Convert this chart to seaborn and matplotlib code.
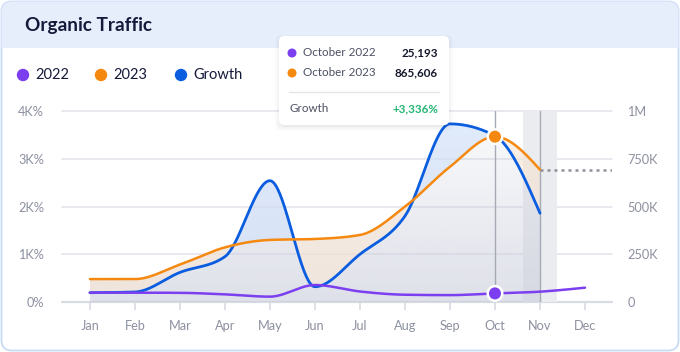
import numpy as np
import pandas as pd
import matplotlib
matplotlib.use('Agg')
import matplotlib.pyplot as plt
import matplotlib.transforms as mtransforms
from matplotlib.patches import FancyBboxPatch, Rectangle, Circle
import seaborn as sns

# ---- data ----
months = ['Jan', 'Feb', 'Mar', 'Apr', 'May', 'Jun', 'Jul', 'Aug', 'Sep', 'Oct', 'Nov', 'Dec']
traffic_2022 = [49000, 49000, 48000, 40000, 28000, 89000, 55000, 38000, 36000, 45000, 54000, 75000]
traffic_2023 = [120000, 120000, 196000, 286000, 325000, 330000, 351000, 499000, 708000, 865606, 693000]
growth_k = [0.195, 0.21, 0.62, 0.95, 2.54, 0.32, 1.0, 1.8, 3.73, 3.48, 1.86]  # in K%
left_ticks = ['0%', '1K%', '2K%', '3K%', '4K%']
right_ticks = ['0', '250K', '500K', '750K', '1M']
tip_rows = [('October 2022', '25,193'), ('October 2023', '865,606')]
tip_growth = '+3,336%'

PURPLE = '#7b3ff0'
ORANGE = '#f5890f'
BLUE = '#0b5de0'
TICK = '#8c90a0'
GRID = '#e3e5eb'

sns.set_style('white')
plt.rcParams['font.family'] = ['Lato', 'DejaVu Sans']


def monotone(x, y, n=40):
    # monotone cubic (same idea as d3 curveMonotoneX)
    x = np.asarray(x, float)
    y = np.asarray(y, float)
    h = np.diff(x)
    s = np.diff(y) / h
    t = np.zeros_like(y)
    for i in range(1, len(y) - 1):
        p = (s[i - 1] * h[i] + s[i] * h[i - 1]) / (h[i - 1] + h[i])
        t[i] = (np.sign(s[i - 1]) + np.sign(s[i])) * min(abs(s[i - 1]), abs(s[i]), 0.5 * abs(p))
    t[0] = (3 * s[0] - t[1]) / 2
    t[-1] = (3 * s[-1] - t[-2]) / 2
    xs, ys = [], []
    for i in range(len(h)):
        u = np.linspace(0, 1, n, endpoint=(i == len(h) - 1))
        h00 = 2 * u**3 - 3 * u**2 + 1
        h10 = u**3 - 2 * u**2 + u
        h01 = -2 * u**3 + 3 * u**2
        h11 = u**3 - u**2
        xs.append(x[i] + u * h[i])
        ys.append(h00 * y[i] + h10 * h[i] * t[i] + h01 * y[i + 1] + h11 * h[i] * t[i + 1])
    return np.concatenate(xs), np.concatenate(ys)


W, H = 680, 352
fig = plt.figure(figsize=(W / 100, H / 100), dpi=100)
px = mtransforms.Affine2D().scale(1 / W, -1 / H).translate(0, 1) + fig.transFigure

# card + header (drawn below the axes)
card = FancyBboxPatch((1.5, 1.5), W - 3, H - 3, boxstyle='round,pad=0,rounding_size=10',
                      transform=px, facecolor='white', edgecolor='#c8daf6', lw=1.3, zorder=-3)
fig.patches.append(card)
head = Rectangle((0, 0), W, 48, transform=px, facecolor='#e6eefc', edgecolor='none', zorder=-2)
head.set_clip_path(card)
fig.patches.append(head)
fig.text(25 / W, 1 - 25 / H, 'Organic Traffic', fontsize=13.7, fontweight='bold',
         color='#161a3a', va='center', ha='left')

# legend
for lx, col, lab in [(23, PURPLE, '2022'), (101, ORANGE, '2023'), (181, BLUE, 'Growth')]:
    fig.patches.append(Circle((lx, 75), 5.5, transform=px, color=col, zorder=2))
    fig.text((lx + 12) / W, 1 - 75 / H, lab, fontsize=10.5, color='#161a3a',
             va='center', ha='left')

# axes
x_pos = np.arange(12)
ax = fig.add_axes([62 / W, 1 - 302 / H, 550 / W, 191 / H])
ax.patch.set_visible(False)
ax2 = ax.twinx()
ax2.set_ylim(0, 1000000)

for sp in list(ax.spines.values()) + list(ax2.spines.values()):
    sp.set_visible(False)
for v in range(5):
    ax.axhline(v, color=GRID if v else '#d8dbe2', lw=1.2 if v else 1.6, zorder=0, clip_on=False)

# hover band and guides
ax.axvspan(9.62, 10.38, color='#ebecef', zorder=0.2, lw=0)
ax.axvline(9, color='#a6aab4', lw=1, zorder=1)
ax.axvline(10, color='#a6aab4', lw=1, zorder=1)

# smooth curves
gx, gy = monotone(x_pos[:11], growth_k)
ox, oy = monotone(x_pos[:11], traffic_2023)
px_, py_ = monotone(x_pos, traffic_2022)
oy_left = oy / 250000.0

# gradient area under the curves
top = np.maximum(gy, oy_left)
poly = ax.fill_between(gx, 0, top, color='none', lw=0)
grad = np.zeros((100, 1, 4))
grad[:, 0, :3] = np.array([0.79, 0.80, 0.86])
grad[:, 0, 3] = np.linspace(0.6, 0.06, 100)
im = ax.imshow(grad, extent=[0, 10, 4, 0], aspect='auto', zorder=0.3, origin='upper')
im.set_clip_path(poly.get_paths()[0], transform=ax.transData)
ax.fill_between(gx, oy_left, gy, where=gy >= oy_left, color='#cfe0fb', alpha=0.6, lw=0, zorder=0.4)
ax.fill_between(gx, gy, oy_left, where=oy_left >= gy, color='#fde8d2', alpha=0.55, lw=0, zorder=0.4)

sns.lineplot(x=gx, y=gy, ax=ax, color=BLUE, lw=2.0, sort=False, estimator=None, zorder=3)
sns.lineplot(x=ox, y=oy, ax=ax2, color=ORANGE, lw=1.8, sort=False, estimator=None, zorder=3)
sns.lineplot(x=px_, y=py_, ax=ax2, color=PURPLE, lw=1.8, sort=False, estimator=None, zorder=3)
ax2.hlines(traffic_2023[-1], 10, 11.6, colors='#8e919b', linestyles=(0, (1.2, 1.6)), lw=1.8)

pts = pd.DataFrame({'x': [9, 9], 'y': [traffic_2023[9], traffic_2022[9]], 's': ['2023', '2022']})
sns.scatterplot(data=pts, x='x', y='y', hue='s', palette={'2023': ORANGE, '2022': PURPLE},
                s=110, edgecolor='white', linewidth=1.8, ax=ax2, legend=False, zorder=5, clip_on=False)

ax.set_xlim(-0.62, 11.6)
ax.set_ylim(0, 4)
ax2.set_ylim(0, 1000000)

# ticks
ax.set_xticks(x_pos)
ax.set_xticklabels(months)
ax.set_yticks(range(5))
ax.set_yticklabels(left_ticks)
ax2.set_yticks([0, 250000, 500000, 750000, 1000000])
ax2.set_yticklabels(right_ticks)
ax.set_xlabel('')
ax.set_ylabel('')
ax2.set_xlabel('')
ax2.set_ylabel('')
ax.tick_params(axis='x', direction='out', length=6, width=1.2, color='#d8dbe2', pad=7,
               labelcolor=TICK, labelsize=9.2, bottom=True)
ax.tick_params(axis='y', length=0, pad=13, labelcolor=TICK, labelsize=9.2)
ax2.tick_params(axis='y', length=0, pad=11, labelcolor=TICK, labelsize=9.2)

# tooltip
for k, a in enumerate([0.05, 0.035, 0.02]):
    fig.patches.append(FancyBboxPatch((279 - k * 2, 36 - k + 1), 170 + k * 4, 89 + k * 3 + 1,
                                      boxstyle='round,pad=0,rounding_size=6', transform=px,
                                      facecolor='#3a3f55', alpha=a, edgecolor='none', zorder=6))
fig.patches.append(FancyBboxPatch((279, 36), 170, 89, boxstyle='round,pad=0,rounding_size=5',
                                  transform=px, facecolor='white', edgecolor='none', zorder=7))
for (lab, val), ty, col in zip(tip_rows, [53, 73], [PURPLE, ORANGE]):
    fig.patches.append(Circle((292, ty), 3.8, transform=px, color=col, zorder=8))
    fig.text(303 / W, 1 - ty / H, lab, fontsize=8.4, color='#4b5063', va='center', ha='left', zorder=8)
    fig.text(438 / W, 1 - ty / H, val, fontsize=8.4, color='#15182c', fontweight='bold',
             va='center', ha='right', zorder=8)
fig.add_artist(plt.Line2D([289 / W, 439 / W], [1 - 91.5 / H] * 2, color='#e3e5ea', lw=1, zorder=8))
fig.text(289 / W, 1 - 109 / H, 'Growth', fontsize=8.4, color='#4b5063', va='center', ha='left', zorder=8)
fig.text(438 / W, 1 - 109 / H, tip_growth, fontsize=8.4, color='#22b573', fontweight='bold',
         va='center', ha='right', zorder=8)

fig.savefig('out.png', dpi=100)
